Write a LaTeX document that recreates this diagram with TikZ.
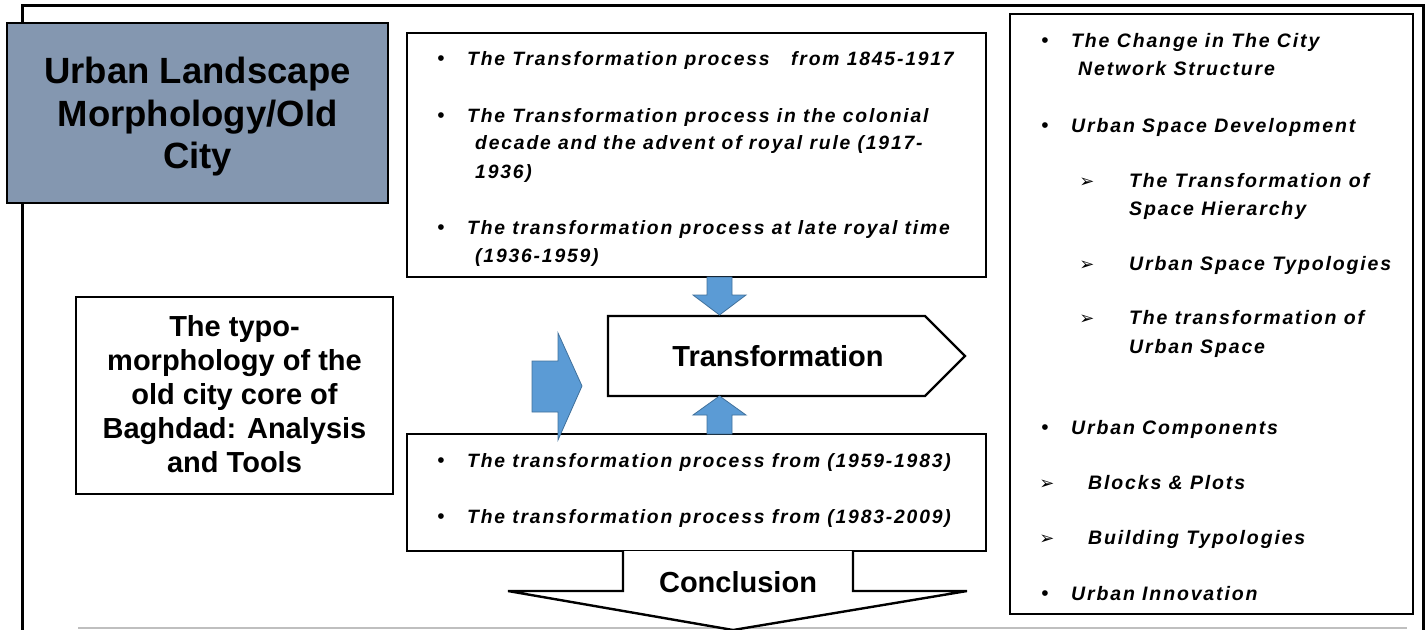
\documentclass[tikz,border=0pt]{standalone}
\usepackage{fontspec}
\setmainfont{Liberation Sans}
\newfontfamily\listfont[LetterSpace=9.5]{Liberation Sans}
\newfontfamily\symfont{DejaVu Sans}
\definecolor{titlefill}{HTML}{8497B0}
\definecolor{arrowblue}{HTML}{5B9BD5}
\definecolor{arrowedge}{HTML}{41719C}
\begin{document}
\begin{tikzpicture}[x=1pt,y=-1pt,
  box/.style={draw=black,line width=2.4pt,rectangle,inner sep=0pt},
  bluearrow/.style={fill=arrowblue,draw=arrowedge,line width=0.8pt,line join=miter},
  bigline/.style={anchor=base,inner sep=0pt,font=\bfseries\fontsize{29}{34}\selectfont},
  listline/.style={anchor=base west,inner sep=0pt,font=\listfont\bfseries\itshape\fontsize{19.3}{22}\selectfont},
  sideline/.style={listline,font=\listfont\bfseries\itshape\fontsize{19.5}{22}\selectfont},
  bul/.style={anchor=base,inner sep=0pt,font=\fontsize{21}{21}\selectfont},
  arr/.style={anchor=base,inner sep=0pt,font=\symfont\fontsize{18}{18}\selectfont}]
  \useasboundingbox (0,0) rectangle (1426,629);
  \clip (0,0) rectangle (1426,629);
  % outer frame
  \draw[line width=3pt] (22,650) -- (22,5) -- (1423,5) -- (1423,650);
  \draw[black!25,line width=1.5pt] (78,628) -- (1407,628);
  % boxes
  \node[box,fill=titlefill,minimum width=381,minimum height=180] (title) at (197.5,113) {};
  \node[box,minimum width=317,minimum height=197] (typo) at (234.5,395.5) {};
  \node[box,minimum width=579,minimum height=244] (top) at (696.5,155) {};
  \node[box,minimum width=579,minimum height=117] (bottom) at (696.5,492.5) {};
  \node[box,minimum width=403,minimum height=600] (side) at (1211.5,314) {};
  % transformation and conclusion
  \draw[line width=2.4pt,line join=miter] (608,316) -- (925,316) -- (965,356) -- (925,396) -- (608,396) -- cycle;
  \draw[line width=2.4pt,line join=miter,fill=white] (623,551) -- (623,591) -- (508,591) -- (733,630)
    -- (967,591) -- (853,591) -- (853,551);
  \node[bigline] (trans) at (778,366) {Transformation};
  \node[bigline] (concl) at (738,592) {Conclusion};
  % blue arrows
  \draw[bluearrow] (707,277) -- (732,277) -- (732,295) -- (746,295) -- (719.5,315) -- (693,295) -- (707,295) -- cycle;
  \draw[bluearrow] (707,434) -- (732,434) -- (732,415) -- (746,415) -- (719.5,396) -- (693,415) -- (707,415) -- cycle;
  \draw[bluearrow] (532,361) -- (558,361) -- (558,333) -- (582,386) -- (558,440) -- (558,412) -- (532,412) -- cycle;
  % title text
  \node[bigline,font=\bfseries\fontsize{36.5}{42}\selectfont] (ti1) at (197.5,83) {Urban Landscape};
  \node[bigline,font=\bfseries\fontsize{36.5}{42}\selectfont] (ti2) at (197.5,126) {Morphology/Old};
  \node[bigline,font=\bfseries\fontsize{36.5}{42}\selectfont] (ti3) at (197.5,168) {City};
  \node[bigline] (ty1) at (234.5,336) {The typo-};
  \node[bigline] (ty2) at (234.5,370) {morphology of the};
  \node[bigline] (ty3) at (234.5,404) {old city core of};
  \node[bigline] (ty4) at (234.5,438) {Baghdad: Analysis};
  \node[bigline] (ty5) at (234.5,472) {and Tools};
  % top list
  \node[bul] (b1) at (441,65) {\textbullet};
  \node[listline] (p1) at (467,65) {The Transformation process\ \ \ from 1845-1917};
  \node[bul] (b2) at (441,122) {\textbullet};
  \node[listline] (p2) at (467,122) {The Transformation process in the colonial};
  \node[listline] (p2b) at (475,149) {decade and the advent of royal rule (1917-};
  \node[listline] (p2c) at (475,178) {1936)};
  \node[bul] (b3) at (441,234) {\textbullet};
  \node[listline] (p3) at (467,234) {The transformation process at late royal time};
  \node[listline] (p3b) at (475,262) {(1936-1959)};
  % bottom list
  \node[bul] (b4) at (441,467) {\textbullet};
  \node[listline] (p4) at (467,467) {The transformation process from (1959-1983)};
  \node[bul] (b5) at (441,523) {\textbullet};
  \node[listline] (p5) at (467,523) {The transformation process from (1983-2009)};
  % side list
  \node[bul] (s1) at (1045,47) {\textbullet};
  \node[sideline] (q1) at (1071,47) {The Change in The City};
  \node[sideline] (q1b) at (1078,75) {Network Structure};
  \node[bul] (s2) at (1045,132) {\textbullet};
  \node[sideline] (q2) at (1071,132) {Urban Space Development};
  \node[arr] (a1) at (1087,187) {➢};
  \node[sideline] (r1) at (1129,187) {The Transformation of};
  \node[sideline] (r1b) at (1129,215) {Space Hierarchy};
  \node[arr] (a2) at (1087,270) {➢};
  \node[sideline] (r2) at (1129,270) {Urban Space Typologies};
  \node[arr] (a3) at (1087,324) {➢};
  \node[sideline] (r3) at (1129,324) {The transformation of};
  \node[sideline] (r3b) at (1129,353) {Urban Space};
  \node[bul] (s3) at (1045,434) {\textbullet};
  \node[sideline] (q3) at (1071,434) {Urban Components};
  \node[arr] (a4) at (1047,489) {➢};
  \node[sideline] (r4) at (1088,489) {Blocks \& Plots};
  \node[arr] (a5) at (1047,544) {➢};
  \node[sideline] (r5) at (1088,544) {Building Typologies};
  \node[bul] (s4) at (1045,600) {\textbullet};
  \node[sideline] (q4) at (1071,600) {Urban Innovation};
\end{tikzpicture}
\end{document}
